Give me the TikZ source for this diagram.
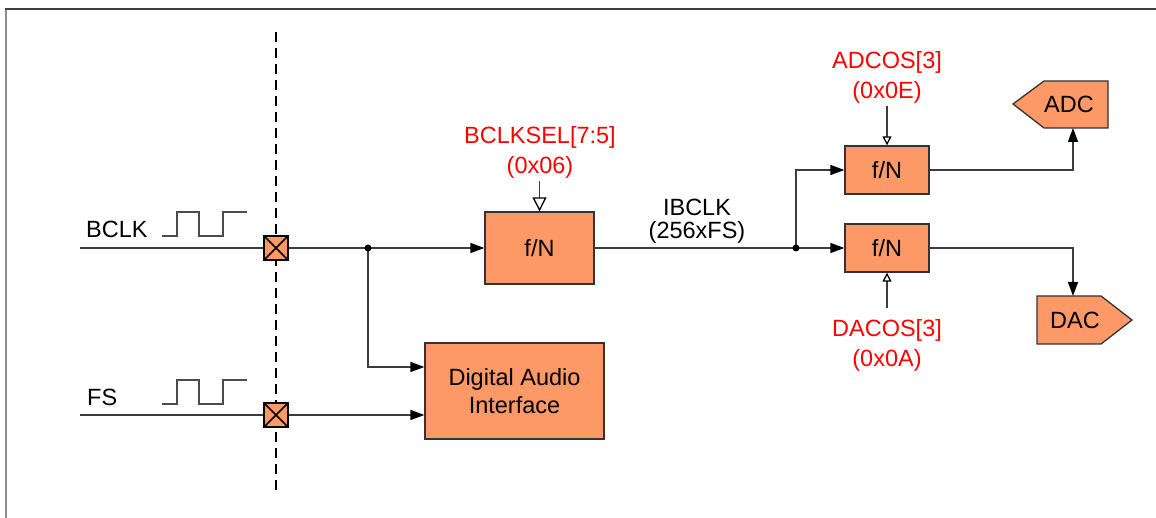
\documentclass[tikz,border=0pt]{standalone}
\usepackage{fontspec}
\setmainfont{Liberation Sans}
\usetikzlibrary{arrows.meta}
\definecolor{blockfill}{RGB}{252,153,102}
\definecolor{wirecol}{RGB}{60,60,60}
\definecolor{regred}{RGB}{255,0,0}
\begin{document}
\begin{tikzpicture}[x=1pt,y=-1pt,
  font=\fontsize{23.5}{29}\selectfont,
  block/.style={draw=black!80, line width=1.3pt, fill=blockfill, inner sep=0pt},
  wire/.style={draw=wirecol, line width=1.3pt},
  arr/.style={wire, -{Triangle[length=14pt,width=10pt,color=black]}},
  cfgbig/.style={wire, -{Triangle[open,length=14pt,width=14pt,fill=white,color=black]}},
  cfgsmall/.style={wire, -{Triangle[open,length=9pt,width=9pt,fill=white,color=black]}},
  pin/.style={draw=black, line width=2pt, fill=blockfill, minimum size=24pt, inner sep=0pt,
    path picture={\draw[line width=1.6pt]
      (path picture bounding box.north west) -- (path picture bounding box.south east)
      (path picture bounding box.north east) -- (path picture bounding box.south west);}},
  reg/.style={text=regred, align=center, inner sep=0pt},
  wave/.style={draw=black!70, line width=1.3pt},
  dot/.style={circle, fill=black, inner sep=0pt, minimum size=7pt}]

\useasboundingbox (0,0) rectangle (1156,518);
\fill[white] (0,0) rectangle (1156,518);

% frame
\draw[black!45, line width=2pt] (6,518) -- (6,9);
\draw[black!75, line width=2pt] (5,9) -- (1156,9);

% boundary between pads and core
\draw[black, line width=1.3pt, dash pattern=on 10pt off 6pt] (276,32) -- (276,490);

% input labels and clock waveforms
\node[anchor=west, inner sep=0pt] (lblB) at (86,229) {BCLK};
\node[anchor=west, inner sep=0pt] (lblF) at (87,397) {FS};
\draw[wave] (162,236) -- (177,236) -- (177,212) -- (199,212) -- (199,236)
  -- (223,236) -- (223,212) -- (247,212);
\draw[wave] (162,404) -- (177,404) -- (177,380) -- (199,380) -- (199,404)
  -- (223,404) -- (223,380) -- (247,380);

% input wires and pads
\coordinate (inB) at (80,248);
\coordinate (inF) at (80,415);
\draw[wire] (inB) -- (276,248);
\draw[wire] (inF) -- (276,415);
\node[pin] (padB) at (276,248) {};
\node[pin] (padF) at (276,415) {};

% blocks
\node[block, minimum width=109pt, minimum height=72pt] (div) at (539.5,248) {f/N};
\node[block, minimum width=179pt, minimum height=96pt, align=center] (dai) at (514.5,391)
  {Digital Audio\\[-1pt]Interface};
\node[block, minimum width=84pt, minimum height=48pt] (divA) at (887,170) {f/N};
\node[block, minimum width=84pt, minimum height=48pt] (divD) at (887,248) {f/N};

% ADC / DAC ports
\path[block] (1013,104) -- (1044,81) -- (1108,81) -- (1108,128) -- (1044,128) -- cycle;
\node (adc) at (1069,104) {ADC};
\path[block] (1037,296) -- (1101,296) -- (1132,320) -- (1101,344) -- (1037,344) -- cycle;
\node (dac) at (1075,320) {DAC};
\coordinate (adcIn) at (1073,128);
\coordinate (dacIn) at (1073,296);

% register labels
\node[reg] (selB) at (540,152) {BCLKSEL[7:5]\\[1pt](0x06)};
\node[reg] (selA) at (887,77) {ADCOS[3]\\[1pt](0x0E)};
\node[reg] (selD) at (887,345) {DACOS[3]\\[1pt](0x0A)};
\node[align=center, inner sep=0pt] (ibclk) at (697,221) {IBCLK\\[-6pt](256xFS)};

% clock distribution
\coordinate (j1) at (368,248);
\coordinate (j2) at (796,248);
\draw[arr] (padB.east) -- (div.west);
\draw[arr] (j1) |- ([yshift=24pt]dai.west);
\draw[arr] (padF.east) -- (padF.east -| dai.west);
\draw[wire] (div.east) -- (j2);
\draw[arr] (j2) -- (divD.west);
\draw[arr] (j2) |- (divA.west);
\draw[arr] (divA.east) -| (adcIn);
\draw[arr] (divD.east) -| (dacIn);
\node[dot] at (j1) {};
\node[dot] at (j2) {};

% register controls
\draw[cfgbig] (div.north) ++(0,-30) -- (div.north);
\draw[cfgsmall] (divA.north) ++(0,-39) -- (divA.north);
\draw[cfgsmall] (divD.south) ++(0,35) -- (divD.south);
\end{tikzpicture}
\end{document}
